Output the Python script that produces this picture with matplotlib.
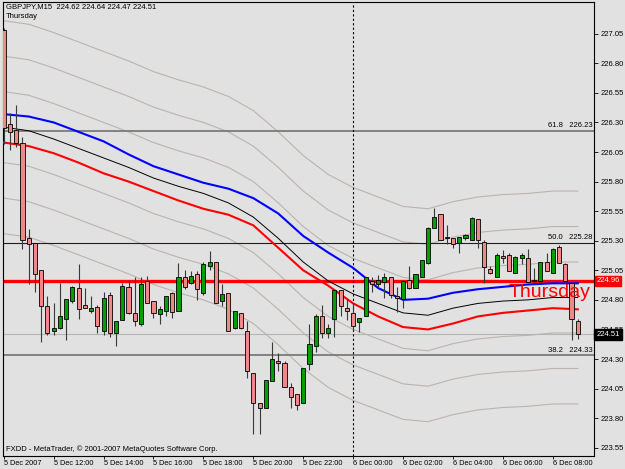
import matplotlib
matplotlib.use("Agg")
import matplotlib.pyplot as plt
from matplotlib.patches import Rectangle

# GBPJPY M15, 5 Dec 2007 10:00 -> 6 Dec 2007 09:00 (one entry per bar)
opens = [227.08, 226.29, 226.24, 226.13, 225.32, 225.28, 225.05, 224.75, 224.54, 224.56,
         224.64, 224.79, 224.90, 224.76, 224.71, 224.74, 224.54, 224.84, 224.52, 224.63,
         224.91, 224.69, 224.60, 224.96, 224.79, 224.68, 224.71, 224.86, 224.71, 224.99,
         224.94, 225.02, 224.86, 225.09, 225.12, 224.79, 224.86, 224.56, 224.69, 224.54,
         224.18, 223.93, 223.89, 224.11, 224.28, 224.27, 224.06, 224.00, 223.93, 224.26,
         224.41, 224.66, 224.52, 224.64, 224.88, 224.73, 224.69, 224.61, 224.66, 224.96,
         224.93, 224.95, 224.99, 224.83, 224.81, 224.97, 224.90, 224.99, 225.11, 225.41,
         225.53, 225.33, 225.32, 225.28, 225.32, 225.31, 225.48, 225.29, 225.06, 224.99,
         225.17, 225.18, 225.03, 225.15, 225.15, 224.97, 224.96, 225.12, 225.03, 225.25,
         225.10, 224.94, 224.62]
highs = [227.10, 226.38, 226.45, 226.18, 225.40, 225.28, 225.05, 224.83, 224.77, 224.94,
         224.81, 224.92, 225.10, 224.90, 224.83, 224.76, 224.87, 224.87, 224.62, 224.94,
         224.97, 224.99, 224.99, 225.00, 224.79, 224.75, 224.83, 224.87, 225.11, 225.05,
         225.04, 225.04, 225.12, 225.21, 225.12, 224.93, 224.86, 224.71, 224.69, 224.62,
         224.18, 223.93, 224.12, 224.44, 224.35, 224.28, 224.10, 224.00, 224.22, 224.60,
         224.68, 224.76, 224.60, 224.88, 224.88, 224.81, 224.77, 224.65, 224.99, 224.99,
         225.01, 225.03, 224.99, 224.91, 224.96, 225.09, 225.02, 225.14, 225.42, 225.58,
         225.53, 225.43, 225.32, 225.33, 225.36, 225.50, 225.48, 225.31, 225.09, 225.20,
         225.22, 225.20, 225.17, 225.20, 225.23, 225.07, 225.12, 225.20, 225.24, 225.26,
         225.11, 224.95, 224.64]
lows = [226.12, 226.07, 226.09, 225.23, 224.93, 224.87, 224.44, 224.50, 224.50, 224.55,
        224.46, 224.77, 224.64, 224.73, 224.69, 224.52, 224.50, 224.49, 224.41, 224.63,
        224.68, 224.58, 224.58, 224.77, 224.65, 224.60, 224.66, 224.65, 224.71, 224.89,
        224.93, 224.80, 224.84, 225.05, 224.77, 224.75, 224.54, 224.55, 224.55, 224.14,
        223.67, 223.67, 223.89, 224.11, 224.20, 224.06, 223.89, 223.87, 223.93, 224.21,
        224.36, 224.48, 224.48, 224.49, 224.66, 224.63, 224.54, 224.53, 224.66, 224.87,
        224.91, 224.82, 224.82, 224.70, 224.73, 224.89, 224.90, 224.99, 225.10, 225.41,
        225.31, 225.27, 225.24, 225.20, 225.31, 225.31, 225.24, 224.94, 225.02, 224.99,
        225.11, 225.04, 225.03, 225.10, 224.95, 224.95, 224.96, 225.04, 225.03, 225.11,
        224.94, 224.46, 224.47]
closes = [226.25, 226.22, 226.13, 225.31, 225.27, 225.02, 224.75, 224.52, 224.56, 224.66,
          224.81, 224.91, 224.72, 224.73, 224.73, 224.58, 224.82, 224.52, 224.62, 224.92,
          224.69, 224.62, 224.93, 224.77, 224.69, 224.72, 224.83, 224.70, 224.99, 224.91,
          225.00, 224.89, 225.10, 225.12, 224.77, 224.85, 224.54, 224.71, 224.56, 224.20,
          223.93, 223.89, 224.12, 224.30, 224.27, 224.06, 223.98, 223.91, 224.22, 224.43,
          224.66, 224.52, 224.56, 224.88, 224.75, 224.71, 224.58, 224.65, 224.99, 224.93,
          224.97, 224.99, 224.84, 224.82, 224.96, 224.90, 225.02, 225.14, 225.41, 225.50,
          225.31, 225.32, 225.27, 225.33, 225.35, 225.49, 225.31, 225.08, 225.03, 225.18,
          225.15, 225.04, 225.16, 225.18, 224.95, 224.96, 225.12, 225.04, 225.23, 225.11,
          224.96, 224.64, 224.51]

# indicator lines, sampled every 4 bars
ma_idx = [0, 4, 8, 12, 16, 20, 24, 28, 32, 36, 40, 44, 48, 52, 56, 60, 64, 68, 72, 76, 80, 84, 88, 92]
ma_blue = [226.37, 226.35, 226.30, 226.22, 226.14, 226.03, 225.93, 225.86, 225.79, 225.74, 225.66, 225.53,
           225.34, 225.20, 225.07, 224.90, 224.80, 224.81, 224.86, 224.89, 224.91, 224.93, 224.94, 224.94]
ma_black = [226.26, 226.23, 226.16, 226.08, 226.00, 225.92, 225.83, 225.76, 225.70, 225.62, 225.50, 225.32,
            225.12, 224.96, 224.85, 224.77, 224.69, 224.67, 224.73, 224.77, 224.79, 224.80, 224.82, 224.82]
ma_red = [226.13, 226.10, 226.04, 225.96, 225.87, 225.80, 225.72, 225.64, 225.57, 225.52, 225.43, 225.24,
          225.05, 224.92, 224.77, 224.66, 224.57, 224.55, 224.60, 224.66, 224.69, 224.71, 224.73, 224.72]
env_up3 = [227.16, 227.13, 227.06, 226.98, 226.90, 226.82, 226.73, 226.66, 226.60, 226.52, 226.40, 226.22,
           226.02, 225.86, 225.75, 225.67, 225.59, 225.57, 225.63, 225.67, 225.69, 225.70, 225.72, 225.72]
env_up2 = [226.86, 226.83, 226.76, 226.68, 226.60, 226.52, 226.43, 226.36, 226.30, 226.22, 226.10, 225.92,
           225.72, 225.56, 225.45, 225.37, 225.29, 225.27, 225.33, 225.37, 225.39, 225.40, 225.42, 225.42]
env_up1 = [226.56, 226.53, 226.46, 226.38, 226.30, 226.22, 226.13, 226.06, 226.00, 225.92, 225.80, 225.62,
           225.42, 225.26, 225.15, 225.07, 224.99, 224.97, 225.03, 225.07, 225.09, 225.10, 225.12, 225.12]
env_dn1 = [225.96, 225.93, 225.86, 225.78, 225.70, 225.62, 225.53, 225.46, 225.40, 225.32, 225.20, 225.02,
           224.82, 224.66, 224.55, 224.47, 224.39, 224.37, 224.43, 224.47, 224.49, 224.50, 224.52, 224.52]
env_dn2 = [225.66, 225.63, 225.56, 225.48, 225.40, 225.32, 225.23, 225.16, 225.10, 225.02, 224.90, 224.72,
           224.52, 224.36, 224.25, 224.17, 224.09, 224.07, 224.13, 224.17, 224.19, 224.20, 224.22, 224.22]
env_dn3 = [225.36, 225.33, 225.26, 225.18, 225.10, 225.02, 224.93, 224.86, 224.80, 224.72, 224.60, 224.42,
           224.22, 224.06, 223.95, 223.87, 223.79, 223.77, 223.83, 223.87, 223.89, 223.90, 223.92, 223.92]

# fibonacci levels and markers
fib_levels = [226.23, 225.28, 224.33]
fib_names = ["61.8", "50.0", "38.2"]
red_level = 224.96
bid = 224.51
day_sep_idx = 56

price_ticks = [223.55, 223.80, 224.05, 224.30, 224.55, 224.80, 225.05, 225.30, 225.55, 225.80,
               226.05, 226.30, 226.55, 226.80, 227.05]
time_idx = [0, 8, 16, 24, 32, 40, 48, 56, 64, 72, 80, 88]
time_labels = ["5 Dec 2007", "5 Dec 12:00", "5 Dec 14:00", "5 Dec 16:00", "5 Dec 18:00", "5 Dec 20:00",
               "5 Dec 22:00", "6 Dec 00:00", "6 Dec 02:00", "6 Dec 04:00", "6 Dec 06:00", "6 Dec 08:00"]

BG = "#e1e1e1"
plt.rcParams['font.family'] = ["Liberation Sans", 'DejaVu Sans']

fig = plt.figure(figsize=(6.25, 4.69), dpi=100, facecolor=BG)
ax = fig.add_axes([0.004, 0.0277, 0.9464, 0.968], facecolor=BG)
ax.set_xlim(-0.2, 94.6)
ax.set_ylim(223.48, 227.318)

# envelopes
for env in [env_up3, env_up2, env_up1, env_dn1, env_dn2, env_dn3]:
    ax.plot(ma_idx, env, color="#b9b4ae", lw=0.8, zorder=1)

# horizontal objects
ax.axhline(fib_levels[0], color="#7a7a7a", lw=1.3, zorder=2)
ax.axhline(fib_levels[1], color="#202020", lw=0.8, zorder=2)
ax.axhline(fib_levels[2], color="#7a7a7a", lw=1.3, zorder=2)
ax.axhline(bid, color="#b4b4b4", lw=0.8, zorder=2)
ax.axhline(red_level, color="#ff0000", lw=2.4, zorder=2)
ax.axvline(day_sep_idx, color="#000000", lw=0.8, ls=(0, (2, 2)), zorder=2)

# moving averages
ax.plot(ma_idx, ma_blue, color="#0000ff", lw=1.5, zorder=3)
ax.plot(ma_idx, ma_black, color="#000000", lw=0.7, zorder=3)
ax.plot(ma_idx, ma_red, color="#ff0000", lw=1.5, zorder=3)

# candles
w = 0.66
for i in range(len(opens)):
    o, h, l, c = opens[i], highs[i], lows[i], closes[i]
    ax.plot([i, i], [l, h], color="#3a3a3a", lw=0.8, zorder=4, solid_capstyle="butt")
    bottom = min(o, c)
    height = max(abs(c - o), 0.006)
    face = "#00a000" if c > o else ("#f08888" if c < o else "#000000")
    ax.add_patch(Rectangle((i - w / 2, bottom), w, height, facecolor=face,
                           edgecolor="#000000", lw=0.6, zorder=5))

# fib labels
for lev, name in zip(fib_levels, fib_names):
    ax.text(94.3, lev + 0.015, f"{name}   {lev:.2f}", ha="right", va="bottom",
            fontsize=5.5, color="#000000", zorder=6)

ax.text(94.0, red_level - 0.03, "Thursday", ha="right", va="top", fontsize=14,
        color="#ff0000", zorder=6)

# header / footer texts
ax.text(0.006, 0.997, "GBPJPY,M15  224.62 224.64 224.47 224.51", transform=ax.transAxes,
        ha="left", va="top", fontsize=5.5, color="#000000")
ax.text(0.006, 0.975, "Thursday", transform=ax.transAxes, ha="left", va="top",
        fontsize=5.5, color="#000000")
ax.text(0.006, 0.006, "FXDD - MetaTrader, \u00a9 2001-2007 MetaQuotes Software Corp.",
        transform=ax.transAxes, ha="left", va="bottom", fontsize=5.5, color="#000000")

# axes styling
for sp in ax.spines.values():
    sp.set_color("#000000")
    sp.set_linewidth(0.8)
ax.yaxis.tick_right()
ax.set_yticks(price_ticks)
ax.set_yticklabels([f"{p:.2f}" for p in price_ticks])
ax.tick_params(axis="y", length=3, width=0.6, pad=1.5, labelsize=5.5, colors="#000000")
ax.set_xticks(time_idx)
ax.set_xticklabels(time_labels, ha="left")
ax.tick_params(axis="x", length=2, width=0.6, pad=0.8, labelsize=5.3, colors="#000000")

# price markers on the right scale
ytr = ax.get_yaxis_transform()
ax.text(1.004, red_level, f"{red_level:.2f}", transform=ytr, ha="left", va="center",
        fontsize=5.5, color="white", zorder=7, clip_on=False,
        bbox=dict(boxstyle="square,pad=0.2", facecolor="#ff0000", edgecolor="#ff0000"))
ax.text(1.004, bid, f"{bid:.2f}", transform=ytr, ha="left", va="center",
        fontsize=5.5, color="white", zorder=7, clip_on=False,
        bbox=dict(boxstyle="square,pad=0.25", facecolor="#000000", edgecolor="#000000"))

fig.savefig("out.png", dpi=100, facecolor=BG)
